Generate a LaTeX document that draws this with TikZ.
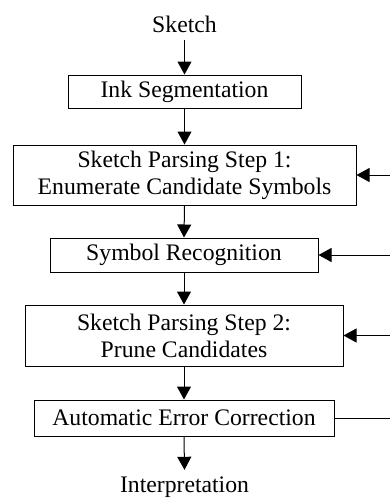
\documentclass[tikz,border=0pt]{standalone}
\usepackage{fontspec}
\setmainfont{Liberation Serif}
\usetikzlibrary{arrows.meta}
\begin{document}
\begin{tikzpicture}[x=1pt,y=-1pt,
  txt/.style={font=\fontsize{23.7}{27}\selectfont},
  box/.style={txt, draw, line width=1pt, inner sep=0pt, align=center},
  lbl/.style={txt, anchor=base, inner xsep=0pt},
  flow/.style={-{Triangle[length=13pt,width=14pt]}, line width=1pt},
  plain/.style={line width=1pt}]
\useasboundingbox (0,0) rectangle (390,499);
\coordinate (edge) at (390,0);
\node[lbl, inner ysep=8pt] (sketch) at (184.5,32) {Sketch};
\node[box, minimum width=233pt, minimum height=33pt] (b1) at (184.5,91.5) {Ink Segmentation};
\node[box, minimum width=343pt, minimum height=60pt] (b2) at (184.5,175) {Sketch Parsing Step 1:\\Enumerate Candidate Symbols};
\node[box, minimum width=268pt, minimum height=34pt] (b3) at (184,255) {Symbol Recognition};
\node[box, minimum width=318pt, minimum height=61pt] (b4) at (184,335.5) {Sketch Parsing Step 2:\\Prune Candidates};
\node[box, minimum width=300pt, minimum height=36pt] (b5) at (184,418) {Automatic Error Correction};
\node[lbl, inner ysep=6.3pt] (interp) at (184.5,492) {Interpretation};
\draw[flow] (sketch.south) -- (b1.north);
\draw[flow] (b1.south) -- (b2.north);
\draw[flow] (b2.south) -- (b3.north);
\draw[flow] (b3.south) -- (b4.north);
\draw[flow] (b4.south) -- (b5.north);
\draw[flow] (b5.south) -- (interp.north);
\draw[flow] (b2.east -| edge) -- (b2.east);
\draw[flow] (b3.east -| edge) -- (b3.east);
\draw[flow] (b4.east -| edge) -- (b4.east);
\draw[plain] (b5.east) -- (b5.east -| edge);
\end{tikzpicture}
\end{document}
